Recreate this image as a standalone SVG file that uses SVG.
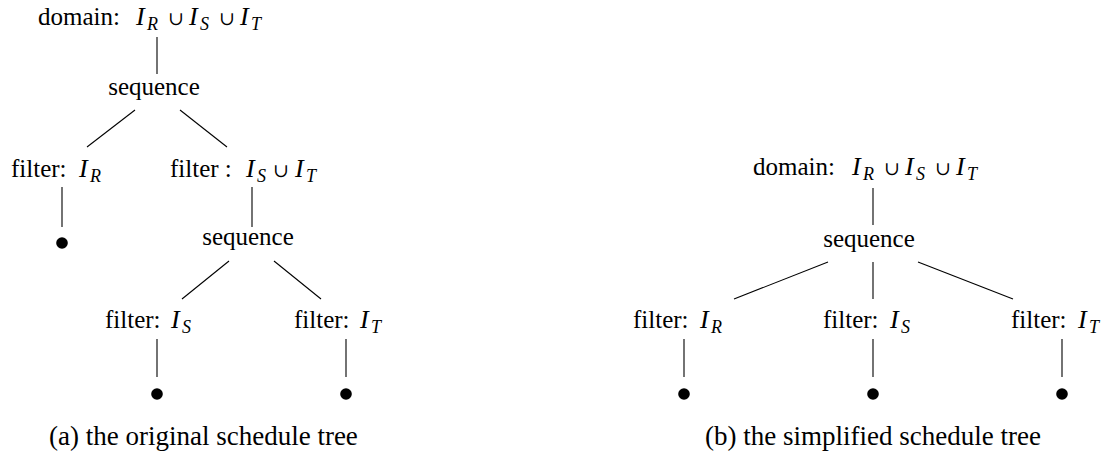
<svg xmlns="http://www.w3.org/2000/svg" width="1107" height="458" viewBox="0 0 1107 458" font-family="'Liberation Serif', 'DejaVu Serif', serif">
<style>
text{font-family:"Liberation Serif","DejaVu Serif",serif;font-size:25px;fill:#000}
.m{font-style:italic;font-size:26px}
.s{font-style:italic;font-size:18px}
.u{font-family:"DejaVu Serif","Liberation Serif",serif;font-size:19px}
.cap{font-size:27px}
.e line{stroke:#000;stroke-width:1.1}
.dot{fill:#000}
</style>
<rect width="1107" height="458" fill="#fff"/>
<g class="e" id="connectors">
<line x1="157" y1="37" x2="157" y2="74"/>
<line x1="135" y1="110" x2="87" y2="147"/>
<line x1="180" y1="110" x2="227" y2="147"/>
<line x1="62" y1="187" x2="62" y2="227"/>
<line x1="252" y1="187" x2="252" y2="227"/>
<line x1="229" y1="261" x2="182" y2="299"/>
<line x1="274" y1="261" x2="321" y2="299"/>
<line x1="157" y1="339" x2="157" y2="377"/>
<line x1="346" y1="339" x2="346" y2="377"/>
<line x1="873" y1="188" x2="873" y2="225"/>
<line x1="828" y1="262" x2="734" y2="299"/>
<line x1="873" y1="262" x2="873" y2="299"/>
<line x1="918" y1="262" x2="1013" y2="299"/>
<line x1="684" y1="339" x2="684" y2="377"/>
<line x1="873" y1="339" x2="873" y2="377"/>
<line x1="1062" y1="339" x2="1062" y2="377"/>
</g>
<g id="a-domain"><text x="38" y="25">domain:<tspan class="m" x="136">I</tspan><tspan class="s" x="147" y="30">R</tspan><tspan class="u" x="168" y="25">∪</tspan><tspan class="m" x="189">I</tspan><tspan class="s" x="200" y="30">S</tspan><tspan class="u" x="219" y="25">∪</tspan><tspan class="m" x="240">I</tspan><tspan class="s" x="251" y="30">T</tspan></text></g>
<g id="a-seq1"><text x="154" y="95" text-anchor="middle">sequence</text></g>
<g id="a-filterR"><text x="11" y="177">filter:<tspan class="m" x="79">I</tspan><tspan class="s" x="90" y="182">R</tspan></text></g>
<g id="a-filterST"><text x="170" y="177">filter :<tspan class="m" x="246">I</tspan><tspan class="s" x="257" y="182">S</tspan><tspan class="u" x="273" y="177">∪</tspan><tspan class="m" x="295">I</tspan><tspan class="s" x="306" y="182">T</tspan></text></g>
<g id="a-leafR"><circle class="dot" cx="62" cy="243" r="5.8"/></g>
<g id="a-seq2"><text x="248" y="245" text-anchor="middle">sequence</text></g>
<g id="a-filterS"><text x="105" y="328">filter:<tspan class="m" x="171">I</tspan><tspan class="s" x="182" y="333">S</tspan></text></g>
<g id="a-filterT"><text x="294" y="328">filter:<tspan class="m" x="360">I</tspan><tspan class="s" x="371" y="333">T</tspan></text></g>
<g id="a-leafS"><circle class="dot" cx="157" cy="394" r="5.8"/></g>
<g id="a-leafT"><circle class="dot" cx="346" cy="394" r="5.8"/></g>
<g id="a-caption"><text class="cap" x="49" y="445">(a) the original schedule tree</text></g>
<g id="b-domain"><text x="753" y="175">domain:<tspan class="m" x="852">I</tspan><tspan class="s" x="863" y="180">R</tspan><tspan class="u" x="884" y="175">∪</tspan><tspan class="m" x="905">I</tspan><tspan class="s" x="916" y="180">S</tspan><tspan class="u" x="935" y="175">∪</tspan><tspan class="m" x="956">I</tspan><tspan class="s" x="967" y="180">T</tspan></text></g>
<g id="b-seq"><text x="869" y="247" text-anchor="middle">sequence</text></g>
<g id="b-filterR"><text x="633" y="328">filter:<tspan class="m" x="700">I</tspan><tspan class="s" x="711" y="333">R</tspan></text></g>
<g id="b-filterS"><text x="823" y="328">filter:<tspan class="m" x="890">I</tspan><tspan class="s" x="901" y="333">S</tspan></text></g>
<g id="b-filterT"><text x="1011" y="328">filter:<tspan class="m" x="1078">I</tspan><tspan class="s" x="1089" y="333">T</tspan></text></g>
<g id="b-leafR"><circle class="dot" cx="684" cy="394" r="5.8"/></g>
<g id="b-leafS"><circle class="dot" cx="873" cy="394" r="5.8"/></g>
<g id="b-leafT"><circle class="dot" cx="1062" cy="394" r="5.8"/></g>
<g id="b-caption"><text class="cap" x="873" y="445" text-anchor="middle">(b) the simplified schedule tree</text></g>
</svg>
